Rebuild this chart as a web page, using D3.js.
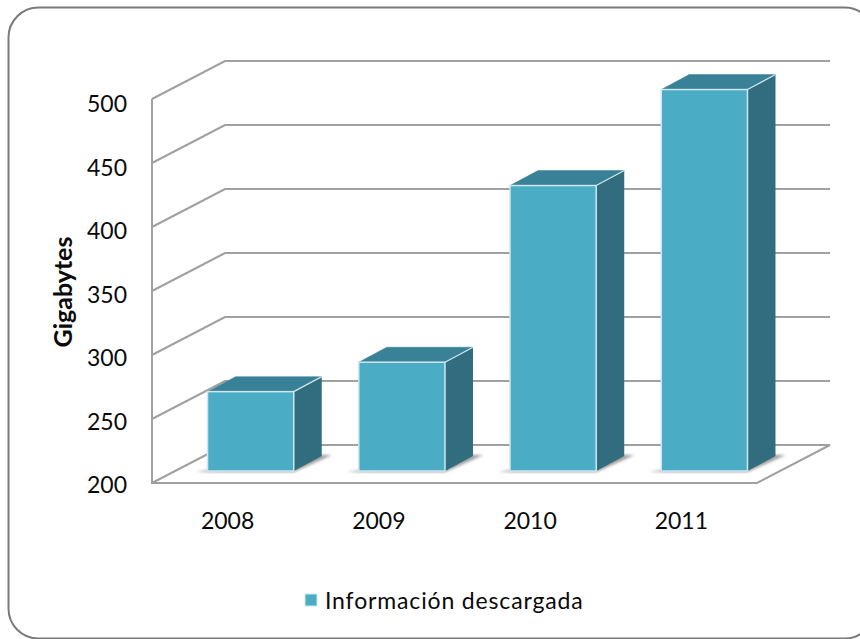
<!DOCTYPE html>
<html>
<head>
<meta charset="utf-8">
<script src="https://cdn.jsdelivr.net/npm/d3@7"></script>
<style>
    html, body { margin: 0; padding: 0; background: #fff; overflow: hidden; }
    text { font-family: "Lato", sans-serif; fill: #0a0a0a; }
    .ylab, .xlab { font-size: 23px; }
    .legend-text { font-size: 23px; letter-spacing: 0.85px; }
    .y-title { font-size: 25px; font-weight: bold; }
</style>
</head>
<body>
<div id="chart"></div>
<script>
const years = ["2008", "2009", "2010", "2011"];
const gigabytes = [262, 285, 423, 498];
const yTicks = [200, 250, 300, 350, 400, 450, 500];
const seriesName = "Información descargada";
const yTitle = "Gigabytes";

const W = 860, H = 639;
// floor depth of the 3d box, and the offset/depth of each column inside it
const depth = {x: 73, y: -38};
const barOffset = {x: 23, y: -12};
const barDepth = {x: 28, y: -15};

const svg = d3.select("#chart").append("svg")
    .attr("width", W)
    .attr("height", H);

const defs = svg.append("defs");
defs.append("filter").attr("id", "soft")
    .append("feGaussianBlur").attr("stdDeviation", 0.55);
defs.append("filter").attr("id", "shadow")
    .attr("x", "-20%").attr("width", "140%")
    .append("feGaussianBlur").attr("stdDeviation", 1.6);

// card, runs off the right and bottom of the picture
svg.append("rect")
    .attr("x", 8.5).attr("y", 7.5)
    .attr("width", 866).attr("height", 631)
    .attr("rx", 30)
    .attr("fill", "#fff")
    .attr("stroke", "#7a7a7a")
    .attr("stroke-width", 2)
    .attr("filter", "url(#soft)");

const x = d3.scaleBand().domain(years).range([152, 757]).paddingInner(0.43).paddingOuter(0.215);
const y = d3.scaleLinear().domain([200, 500]).range([483, 99]);
const yLabel = d3.scaleLinear().domain([200, 500]).range([484, 103]);

// walls
const grid = svg.append("g")
    .attr("filter", "url(#soft)")
    .attr("fill", "none")
    .attr("stroke", "#a0a0a0")
    .attr("stroke-width", 2);

yTicks.forEach(t => {
    grid.append("path").attr("d", d3.line()([
        [x.range()[0], y(t)],
        [x.range()[0] + depth.x, y(t) + depth.y],
        [x.range()[1] + depth.x, y(t) + depth.y]
    ]));
});
grid.append("path").attr("d", d3.line()([
    [x.range()[0], y(500)],
    [x.range()[0], y(200)],
    [x.range()[1], y(200)],
    [x.range()[1] + depth.x, y(200) + depth.y]
]));

// columns
const bars = svg.selectAll("g.bar").data(years.map((d, i) => ({year: d, value: gigabytes[i]})))
    .enter().append("g")
    .attr("class", "bar");

const x0 = d => x(d.year) + barOffset.x;
const x1 = d => x0(d) + x.bandwidth();
const base = y(200) + barOffset.y;
const barTop = d => base - (y(200) - y(d.value));

bars.append("path")
    .attr("filter", "url(#shadow)")
    .attr("fill", "#9a9a9a")
    .attr("d", d => d3.line()([
        [x0(d) - 12, base + 1],
        [x1(d), base + 1],
        [x1(d) + barDepth.x + 10, base + barDepth.y - 1],
        [x1(d) + barDepth.x - 8, base + barDepth.y - 1]
    ]) + "Z");

// top
bars.append("path")
    .attr("fill", "#388197")
    .attr("stroke", "#388197")
    .attr("stroke-width", 0.5)
    .attr("d", d => d3.line()([
        [x0(d), barTop(d)],
        [x0(d) + barDepth.x, barTop(d) + barDepth.y],
        [x1(d) + barDepth.x, barTop(d) + barDepth.y],
        [x1(d), barTop(d)]
    ]) + "Z");

// side
bars.append("path")
    .attr("fill", "#316d7f")
    .attr("d", d => d3.line()([
        [x1(d), barTop(d)],
        [x1(d) + barDepth.x, barTop(d) + barDepth.y],
        [x1(d) + barDepth.x, base + barDepth.y],
        [x1(d), base]
    ]) + "Z");

// front
bars.append("rect")
    .attr("x", x0)
    .attr("y", barTop)
    .attr("width", x.bandwidth())
    .attr("height", d => base - barTop(d))
    .attr("fill", "#4bacc6")
    .attr("stroke", "#cfe7ee")
    .attr("stroke-width", 1.5);

// light edge between top and side
bars.append("path")
    .attr("fill", "none")
    .attr("stroke", "#cfe7ee")
    .attr("stroke-width", 1.2)
    .attr("d", d => d3.line()([
        [x1(d), barTop(d)],
        [x1(d) + barDepth.x, barTop(d) + barDepth.y]
    ]));

// labels
svg.selectAll("text.ylab").data(yTicks).enter().append("text")
    .attr("class", "ylab")
    .attr("x", 127)
    .attr("y", d => yLabel(d) + 9)
    .attr("text-anchor", "end")
    .text(d => d);

svg.selectAll("text.xlab").data(years).enter().append("text")
    .attr("class", "xlab")
    .attr("x", d => x(d) + x.bandwidth() / 2)
    .attr("y", 529)
    .attr("text-anchor", "middle")
    .text(d => d);

svg.append("text")
    .attr("class", "y-title")
    .attr("transform", "translate(72,292) rotate(-90)")
    .attr("text-anchor", "middle")
    .text(yTitle);

// legend
svg.append("rect")
    .attr("x", 305).attr("y", 594)
    .attr("width", 12).attr("height", 12)
    .attr("fill", "#4bacc6")
    .attr("stroke", "#cfe7ee")
    .attr("stroke-width", 1);

svg.append("text")
    .attr("class", "legend-text")
    .attr("x", 325).attr("y", 609)
    .text(seriesName);
</script>
</body>
</html>
